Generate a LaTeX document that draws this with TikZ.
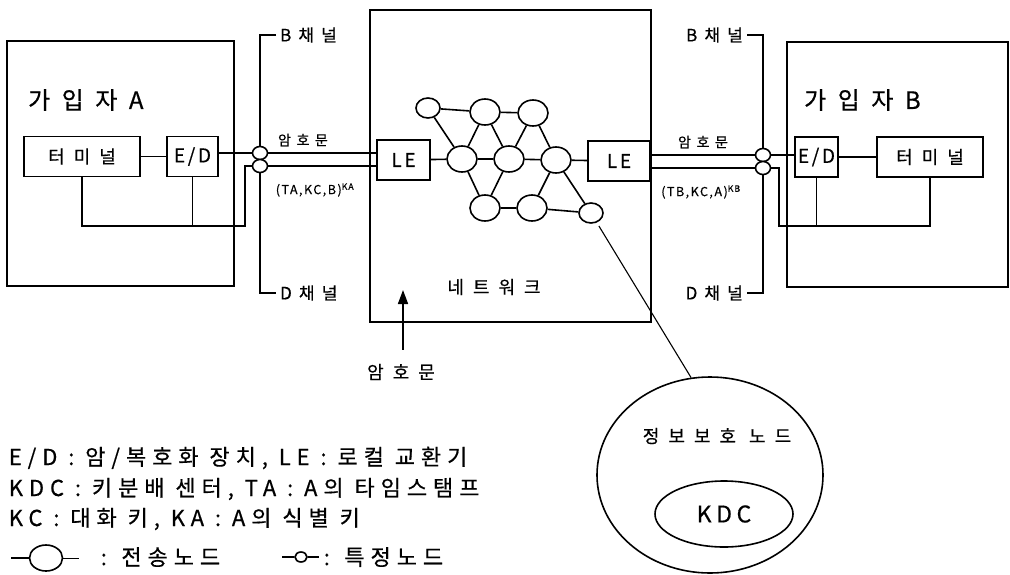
\documentclass[tikz,border=0pt]{standalone}
\usepackage{fontspec}
\setmainfont{Noto Sans CJK KR}[FakeBold=0.5]
\usetikzlibrary{arrows.meta,shapes.geometric}

\tikzset{
  box/.style={draw,minimum height=40pt,inner sep=0pt,font=\lbl},
  netnode/.style={draw,ellipse,minimum width=30pt,minimum height=26pt,inner sep=0pt},
  smallnode/.style={netnode,minimum width=24pt,minimum height=20pt},
  spnode/.style={draw,ellipse,fill=white,minimum width=15pt,minimum height=13pt,inner sep=0pt},
  legend/.style={anchor=west,inner sep=0pt,font=\lgd},
}
\newcommand{\ttl}{\fontsize{24}{26}\selectfont\addfontfeature{LetterSpace=48}}
\newcommand{\lbl}{\fontsize{18}{20}\selectfont\addfontfeature{LetterSpace=50}}
\newcommand{\edf}{\fontsize{19}{21}\selectfont\addfontfeature{LetterSpace=14}}
\newcommand{\chn}{\fontsize{17}{19}\selectfont\addfontfeature{LetterSpace=42}}
\newcommand{\cph}{\fontsize{14}{16}\selectfont\addfontfeature{LetterSpace=40}}
\newcommand{\keyf}{\fontsize{12.5}{14}\selectfont\addfontfeature{LetterSpace=12}}
\newcommand{\lgd}{\fontsize{22}{24}\selectfont\addfontfeature{LetterSpace=27}}
\newcommand{\kdcf}{\fontsize{23}{25}\selectfont\addfontfeature{LetterSpace=20}}

\begin{document}
\begin{tikzpicture}[x=1pt,y=-1pt,line width=1.6pt]
 \useasboundingbox (0,0) rectangle (1010,574);
 \node[draw,minimum width=227pt,minimum height=245pt] (subA) at (120.5,163.5) {};
 \node[draw,minimum width=281pt,minimum height=312pt] (net) at (510.5,166) {};
 \node[draw,minimum width=221pt,minimum height=245pt] (subB) at (897.5,164.5) {};
 \node[anchor=west,font=\ttl] (tA) at (24,100) {가입자A};
 \node[anchor=west,font=\ttl] (tB) at (800,100) {가입자B};
 \node[font=\lbl] (nettxt) at (494,287) {네트워크};

 \node[anchor=west,font=\chn] (bchA) at (276,35) {B채널};
 \node[anchor=west,font=\chn] (dchA) at (276,293) {D채널};
 \draw (bchA.west) -- ++(-16,0) |- (dchA.west);
 \node[anchor=east,font=\chn] (bchB) at (747,35) {B채널};
 \node[anchor=east,font=\chn] (dchB) at (747,293) {D채널};
 \draw (bchB.east) -- ++(16,0) |- (dchB.east);

 \node[box,minimum width=116pt] (termA) at (82,156.5) {터미널};
 \node[box,minimum width=51pt,font=\edf] (edA) at (192.5,156.5) {E/D};
 \node[spnode] (spA1) at (260,153) {};
 \node[spnode] (spA2) at (260,166) {};
 \node[box,minimum width=53pt,font=\edf] (leA) at (403.5,160) {LE};
 \node[box,minimum width=62pt,font=\edf] (leB) at (619,161) {LE};
 \node[spnode] (spB1) at (763,155) {};
 \node[spnode] (spB2) at (763,168) {};
 \node[box,minimum width=43pt,font=\edf] (edB) at (816.5,157) {E/D};
 \node[box,minimum width=106pt] (termB) at (930,157) {터미널};

 \node[font=\cph] (cA) at (303,140) {암호문};
 \node[font=\keyf] (kA) at (315,190) {(TA,KC,B)\textsuperscript{KA}};
 \node[font=\cph] (cB) at (703,142) {암호문};
 \node[font=\keyf] (kB) at (701,192) {(TB,KC,A)\textsuperscript{KB}};

 \draw (termA) -- (edA);
 \draw (spA1) -- (spA1 -| edA.east);
 \draw (spA1) -- (spA1 -| leA.west);
 \draw (spA2) -- (spA2 -| leA.west);
 \coordinate (fbA) at (245,226);
 \draw (termA.south) |- (fbA) |- (spA2);
 \draw (edA.south) -- (edA.south |- fbA);

 \draw (spB1 -| leB.east) -- (spB1);
 \draw (spB2 -| leB.east) -- (spB2);
 \draw (spB1) -- (spB1 -| edB.west);
 \draw (edB) -- (termB);
 \coordinate (fbB) at (779,226);
 \draw (spB2) -| (fbB) -| (termB.south);
 \draw (edB.south) -- (edB.south |- fbB);

 \foreach \n/\x/\y in {n2/485/112,n3/533/113,n4/462/159,n5/509/159,n6/556/160,n7/485/208,n8/532/208}
   {\node[netnode] (\n) at (\x,\y) {};}
 \node[smallnode] (n1) at (428,108) {};
 \node[smallnode] (n9) at (591,213) {};
 \foreach \a/\b in {n1/n2,n2/n3,n1/n4,n2/n4,n2/n5,n3/n5,n3/n6,n4/n5,n5/n6,n4/n7,n5/n7,n6/n8,n7/n8,n8/n9,n6/n9,leA/n4,n6/leB}
   {\draw (\a) -- (\b);}

 \coordinate (arrtip) at (403,290);
 \node[font=\lbl] (cN) at (401,372) {암호문};
 \draw[-{Triangle[length=14pt,width=10pt]},shorten <=10pt] (cN.north -| arrtip) -- (arrtip);

 \node[draw,ellipse,minimum width=226pt,minimum height=196pt] (pnode) at (710,475) {};
 \node[font=\lbl] (ptxt) at (717,436) {정보보호 노드};
 \node[draw,ellipse,minimum width=138pt,minimum height=66pt,font=\kdcf] (kdc) at (724,514) {KDC};
 \draw[line width=1.1pt,shorten <=4pt] (n9) -- (pnode.101);

 \node[legend] (lg1) at (8,458) {E/D : 암/복호화 장치, LE : 로컬 교환기};
 \node[legend] (lg2) at (8,489) {KDC : 키분배 센터, TA : A의 타임스탬프};
 \node[legend] (lg3) at (8,519) {KC : 대화 키, KA : A의 식별 키};
 \node[netnode,minimum width=33pt,minimum height=26pt] (lgbig) at (46,558) {};
 \draw (lgbig.west) -- ++(-18,0);
 \draw[line width=1pt] (lgbig.east) -- ++(16,0);
 \node[legend] (lg4) at (100,557) {: 전송노드};
 \node[spnode,minimum width=12pt,minimum height=10pt] (lgsmall) at (301,557) {};
 \draw (lgsmall.west) -- ++(-12,0);
 \draw (lgsmall.east) -- ++(11,0);
 \node[legend] (lg5) at (323,557) {: 특정노드};
\end{tikzpicture}
\end{document}
